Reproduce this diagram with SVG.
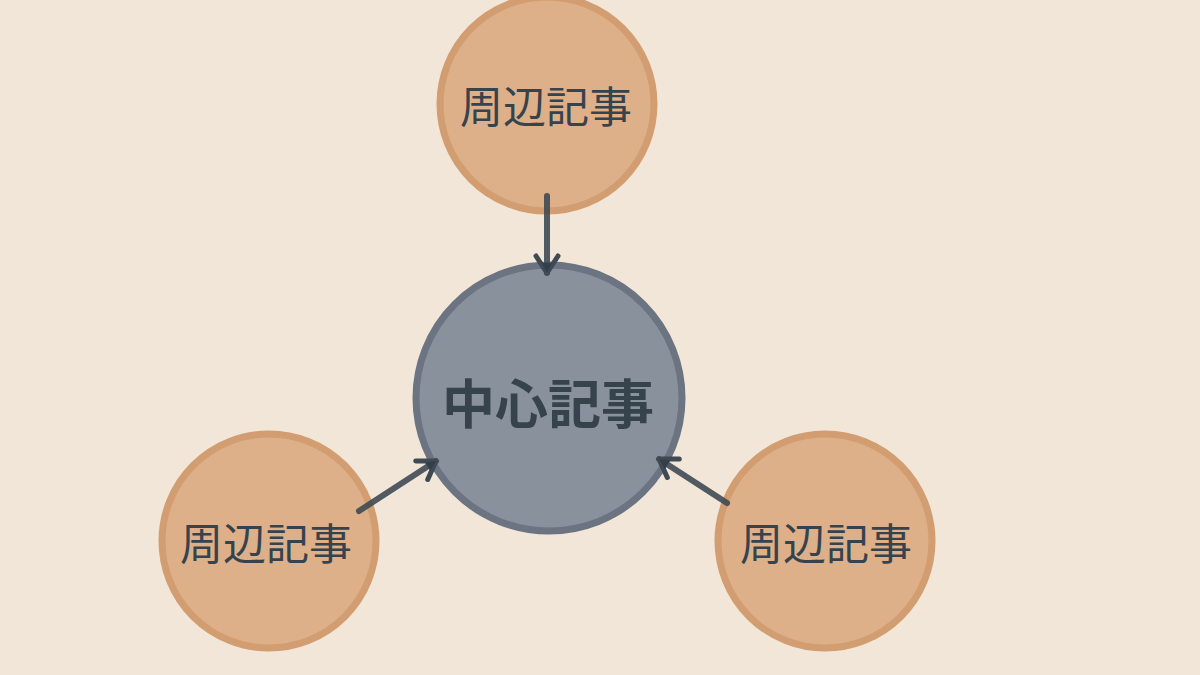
<svg xmlns="http://www.w3.org/2000/svg" width="1200" height="675" viewBox="0 0 1200 675">
<defs>
<style>
.bg{fill:#f1e6d8}
.peri circle{fill:#deb089;stroke:#d29d70;stroke-width:7}
.center circle{fill:#89919d;stroke:#6b7480;stroke-width:7}
.lbl{font-family:"Noto Sans CJK JP","Noto Sans",sans-serif;fill:#36434d;text-anchor:middle;dominant-baseline:central}
.plbl{font-size:43px;font-weight:400}
.clbl{font-size:53px;font-weight:700}
.conn{stroke:#3f4a54;stroke-width:6;fill:none;stroke-linecap:round;stroke-opacity:0.9}
</style>
<marker id="ah" viewBox="-20 -14 22 28" refX="0" refY="0" markerWidth="22" markerHeight="28" markerUnits="userSpaceOnUse" orient="auto">
<path d="M-17,-11 L0,0 L-17,11" fill="none" stroke="#3f4a54" stroke-width="5" stroke-linecap="round" stroke-linejoin="round"/>
<path d="M-10,-5 L0,0 L-10,5 Z" fill="#33404a"/>
</marker>
</defs>
<rect class="bg" x="0" y="0" width="1200" height="675"/>
<g id="top" class="peri">
<circle cx="547" cy="104" r="107"/>
<text class="lbl plbl" x="546" y="104">周辺記事</text>
</g>
<g id="left" class="peri">
<circle cx="269" cy="541" r="107"/>
<text class="lbl plbl" x="266" y="541">周辺記事</text>
</g>
<g id="right" class="peri">
<circle cx="825" cy="541" r="107"/>
<text class="lbl plbl" x="826" y="541">周辺記事</text>
</g>
<g id="center" class="center">
<circle cx="549" cy="398" r="133"/>
<text class="lbl clbl" x="548" y="401">中心記事</text>
</g>
<g id="connectors">
<path class="conn" d="M547,196 L547,273" marker-end="url(#ah)"/>
<path class="conn" d="M359,511 L436,461" marker-end="url(#ah)"/>
<path class="conn" d="M727,503 L659,459" marker-end="url(#ah)"/>
</g>
</svg>
